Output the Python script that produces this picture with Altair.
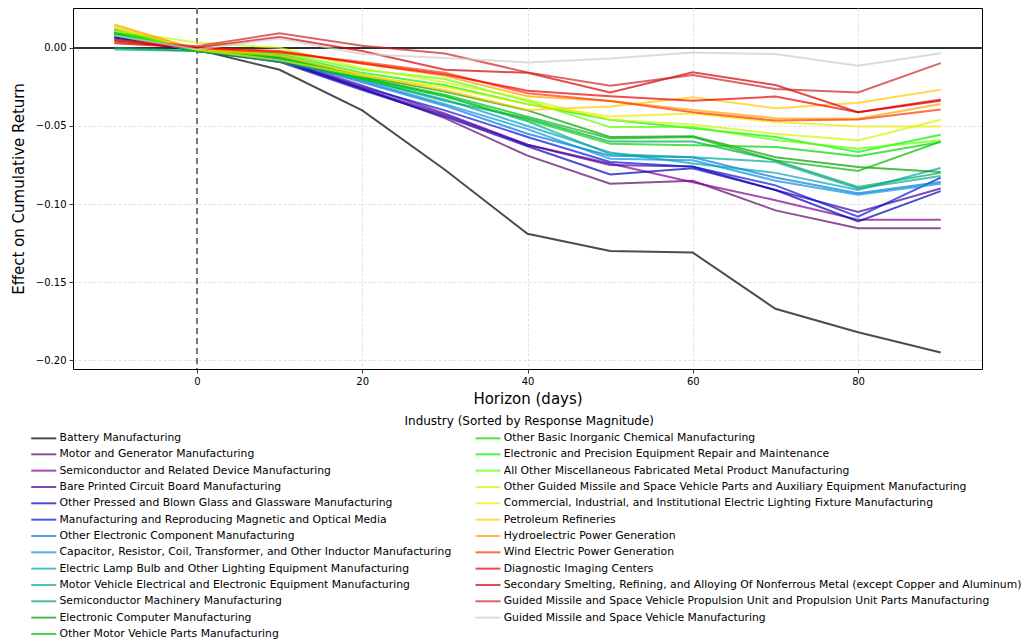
import altair as alt
import pandas as pd
import numpy as np

horizons = [-10, 0, 10, 20, 30, 40, 50, 60, 70, 80, 90]

industries = [
    "Battery Manufacturing",
    "Motor and Generator Manufacturing",
    "Semiconductor and Related Device Manufacturing",
    "Bare Printed Circuit Board Manufacturing",
    "Other Pressed and Blown Glass and Glassware Manufacturing",
    "Manufacturing and Reproducing Magnetic and Optical Media",
    "Other Electronic Component Manufacturing",
    "Capacitor, Resistor, Coil, Transformer, and Other Inductor Manufacturing",
    "Electric Lamp Bulb and Other Lighting Equipment Manufacturing",
    "Motor Vehicle Electrical and Electronic Equipment Manufacturing",
    "Semiconductor Machinery Manufacturing",
    "Electronic Computer Manufacturing",
    "Other Motor Vehicle Parts Manufacturing",
    "Other Basic Inorganic Chemical Manufacturing",
    "Electronic and Precision Equipment Repair and Maintenance",
    "All Other Miscellaneous Fabricated Metal Product Manufacturing",
    "Other Guided Missile and Space Vehicle Parts and Auxiliary Equipment Manufacturing",
    "Commercial, Industrial, and Institutional Electric Lighting Fixture Manufacturing",
    "Petroleum Refineries",
    "Hydroelectric Power Generation",
    "Wind Electric Power Generation",
    "Diagnostic Imaging Centers",
    "Secondary Smelting, Refining, and Alloying Of Nonferrous Metal (except Copper and Aluminum)",
    "Guided Missile and Space Vehicle Propulsion Unit and Propulsion Unit Parts Manufacturing",
    "Guided Missile and Space Vehicle Manufacturing",
]

battery = [0.011, -0.001, -0.014, -0.040, -0.078, -0.119, -0.130, -0.131, -0.167, -0.182, -0.195]
motor_gen = [0.009, -0.001, -0.008, -0.026, -0.045, -0.069, -0.087, -0.085, -0.104, -0.1155, -0.1155]
semiconductor = [0.008, -0.001, -0.007, -0.024, -0.042, -0.062, -0.074, -0.086, -0.0975, -0.110, -0.110]
bare_pcb = [0.007, -0.002, -0.008, -0.026, -0.043, -0.062, -0.075, -0.076, -0.091, -0.105, -0.090]
pressed_glass = [0.006, -0.002, -0.009, -0.027, -0.044, -0.063, -0.081, -0.077, -0.091, -0.111, -0.0917]
magnetic_media = [0.007, -0.002, -0.008, -0.025, -0.040, -0.057, -0.073, -0.076, -0.088, -0.108, -0.083]
other_electronic = [0.009, -0.002, -0.007, -0.022, -0.037, -0.055, -0.069, -0.070, -0.083, -0.093, -0.0858]
capacitor = [0.010, -0.002, -0.007, -0.021, -0.036, -0.052, -0.071, -0.072, -0.085, -0.094, -0.087]
lamp_bulb = [0.012, -0.001, -0.006, -0.020, -0.033, -0.050, -0.067, -0.074, -0.080, -0.091, -0.0769]
motor_vehicle_elec = [-0.001, -0.002, -0.008, -0.019, -0.031, -0.047, -0.068, -0.070, -0.073, -0.090, -0.082]
semi_machinery = [0.000, -0.002, -0.009, -0.020, -0.034, -0.045, -0.060, -0.060, -0.072, -0.089, -0.080]
electronic_computer = [0.010, -0.002, -0.005, -0.018, -0.028, -0.040, -0.057, -0.0565, -0.070, -0.0762, -0.0794]
motor_vehicle_parts = [0.009, -0.002, -0.006, -0.019, -0.030, -0.044, -0.058, -0.057, -0.072, -0.0788, -0.060]
basic_inorganic = [0.008, -0.002, -0.006, -0.020, -0.031, -0.046, -0.0614, -0.0624, -0.0635, -0.0694, -0.0603]
precision_repair = [0.010, -0.001, -0.004, -0.016, -0.024, -0.036, -0.046, -0.0514, -0.057, -0.0667, -0.0556]
misc_metal = [0.011, -0.001, -0.003, -0.014, -0.020, -0.034, -0.0507, -0.0507, -0.059, -0.0645, -0.0592]
missile_parts = [0.011, 0.0034, 0.000, -0.013, -0.022, -0.033, -0.046, -0.049, -0.055, -0.0592, -0.046]
lighting_fixture = [0.013, -0.001, -0.008, -0.018, -0.025, -0.036, -0.044, -0.042, -0.0475, -0.0503, -0.0503]
petroleum = [0.014, -0.001, -0.005, -0.017, -0.027, -0.0397, -0.0376, -0.0316, -0.0386, -0.0352, -0.0268]
hydro = [0.015, -0.001, -0.003, -0.010, -0.018, -0.031, -0.034, -0.0397, -0.045, -0.0454, -0.0359]
wind = [0.005, 0.000, -0.003, -0.009, -0.016, -0.029, -0.034, -0.0412, -0.0465, -0.0458, -0.0395]
diagnostic = [0.004, 0.000, -0.002, -0.010, -0.017, -0.0274, -0.031, -0.0338, -0.0312, -0.0412, -0.0331]
smelting = [0.003, 0.000, 0.007, -0.002, -0.014, -0.016, -0.0285, -0.0157, -0.0238, -0.0412, -0.0338]
propulsion = [0.005, 0.001, 0.0093, 0.0013, -0.0036, -0.0157, -0.0242, -0.0174, -0.0263, -0.0285, -0.0098]
missile_mfg = [0.008, -0.001, 0.006, -0.004, -0.0065, -0.0093, -0.0068, -0.003, -0.004, -0.0115, -0.0035]

series = [battery, motor_gen, semiconductor, bare_pcb, pressed_glass, magnetic_media,
          other_electronic, capacitor, lamp_bulb, motor_vehicle_elec, semi_machinery,
          electronic_computer, motor_vehicle_parts, basic_inorganic, precision_repair,
          misc_metal, missile_parts, lighting_fixture, petroleum, hydro, wind,
          diagnostic, smelting, propulsion, missile_mfg]

# nipy_spectral colormap (style only)
_stops = np.linspace(0, 1, 21)
_red = [0.0, 0.4667, 0.5333, 0.0, 0.0, 0.0, 0.0, 0.0, 0.0, 0.0, 0.0, 0.0, 0.0, 0.7333, 0.9333, 1.0, 1.0, 1.0, 0.8667, 0.80, 0.80]
_green = [0.0, 0.0, 0.0, 0.0, 0.0, 0.4667, 0.6, 0.6667, 0.6667, 0.6, 0.7333, 0.8667, 1.0, 1.0, 0.9333, 0.8, 0.6, 0.0, 0.0, 0.0, 0.80]
_blue = [0.0, 0.5333, 0.6, 0.6667, 0.8667, 0.8667, 0.8667, 0.6667, 0.5333, 0.0, 0.0, 0.0, 0.0, 0.0, 0.0, 0.0, 0.0, 0.0, 0.0, 0.0, 0.80]


def _hex(t):
    r, g, b = (np.interp(t, _stops, c) for c in (_red, _green, _blue))
    return "#{:02x}{:02x}{:02x}".format(int(round(r * 255)), int(round(g * 255)), int(round(b * 255)))


colors = [_hex(t) for t in np.linspace(0, 1, len(industries))]

rows = []
for i, (name, vals) in enumerate(zip(industries, series)):
    for h, v in zip(horizons, vals):
        rows.append({"Industry": name, "Horizon": h, "Effect": v, "rank": i})
df = pd.DataFrame(rows)

FONT = "DejaVu Sans"

xscale = alt.Scale(domain=[-15, 95], nice=False, zero=False)
yscale = alt.Scale(domain=[-0.2055, 0.0255], nice=False, zero=False)

lines = alt.Chart(df).mark_line(strokeWidth=2, opacity=0.7).encode(
    x=alt.X("Horizon:Q", scale=xscale,
            axis=alt.Axis(values=[0, 20, 40, 60, 80], title="Horizon (days)", format="d")),
    y=alt.Y("Effect:Q", scale=yscale,
            axis=alt.Axis(values=[-0.2, -0.15, -0.1, -0.05, 0.0], format=".2f",
                          title="Effect on Cumulative Return")),
    color=alt.Color("Industry:N",
                    scale=alt.Scale(domain=industries, range=colors),
                    legend=alt.Legend(
                        title="Industry (Sorted by Response Magnitude)",
                        orient="none", legendX=-36.75, legendY=407.5,
                        columns=2, columnPadding=19.25, rowPadding=3.33,
                        gridAlign="each",
                        symbolType="M-2,0H2", symbolSize=156, symbolStrokeWidth=2,
                        symbolOpacity=0.7, labelFontSize=10.8, labelFont=FONT,
                        labelLimit=1000, labelColor="#000000", labelOffset=8.25,
                        titleFontSize=12, titleFont=FONT, titleFontWeight="normal",
                        titleColor="#000000", titleAnchor="middle", titlePadding=3,
                        titleLimit=1000, symbolLimit=50)),
    detail="rank:O",
    order="Horizon:Q",
)

zero_line = alt.Chart(df).mark_rule(color="#333333", strokeWidth=1).encode(
    y=alt.datum(0, scale=yscale)
)
vline = alt.Chart(df).mark_rule(color="#777777", strokeWidth=1.3, strokeDash=[6, 4]).encode(
    x=alt.datum(0, scale=xscale)
)

chart = alt.layer(zero_line, vline, lines).properties(
    width=909, height=361,
    autosize=alt.AutoSizeParams(type="none"),
    padding={"left": 73, "top": 8, "right": 44, "bottom": 272},
).configure_view(
    stroke="#000000", strokeWidth=1
).configure_axis(
    labelFont=FONT, titleFont=FONT, labelFontSize=10, titleFontSize=15,
    titleFontWeight="normal", labelColor="#000000", titleColor="#000000",
    domain=False, tickColor="#000000", tickSize=4, tickWidth=0.8,
    grid=True, gridColor="#d9d9d9", gridDash=[3, 2], gridWidth=0.8,
    labelPadding=3,
).configure_axisX(
    titlePadding=5
).configure_axisY(
    titlePadding=9
)

chart.save("out.html", embed_options={"renderer": "svg", "actions": False})
